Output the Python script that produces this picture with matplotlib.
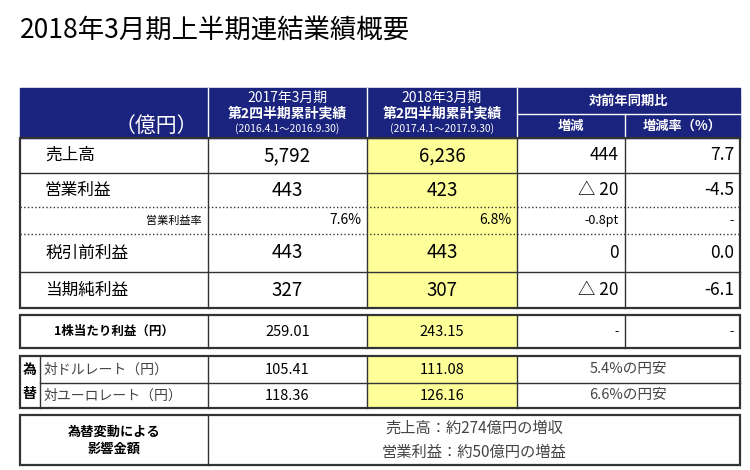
import matplotlib
matplotlib.use("Agg")
import matplotlib.pyplot as plt
from matplotlib.patches import Rectangle

plt.rcParams["font.family"] = "Noto Sans CJK JP"

title = "2018年3月期上半期連結業績概要"
items = ["売上高", "営業利益", "営業利益率", "税引前利益", "当期純利益"]
prev = ["5,792", "443", "7.6%", "443", "327"]
curr = ["6,236", "423", "6.8%", "443", "307"]
diff = ["444", "△ 20", "-0.8pt", "0", "△ 20"]
rate = ["7.7", "-4.5", "-", "0.0", "-6.1"]
eps_label = "1株当たり利益（円）"
eps = ["259.01", "243.15", "-", "-"]
fx_labels = ["対ドルレート（円）", "対ユーロレート（円）"]
fx_prev = ["105.41", "118.36"]
fx_curr = ["111.08", "126.16"]
fx_note = ["5.4%の円安", "6.6%の円安"]
impact_label = "為替変動による\n影響金額"
impact = ["売上高：約274億円の増収", "営業利益：約50億円の増益"]

fig = plt.figure(figsize=(7.5, 4.7), dpi=100)
ax = fig.add_axes([0, 0, 1, 1])
ax.set_xlim(0, 750); ax.set_ylim(470, 0); ax.axis("off")

NAVY = "#1a237e"; YEL = "#ffff99"; LC = "#333333"
X = [20, 208, 367, 517, 625, 740]

def rect(x0, y0, x1, y1, fc="none", lw=1.0, ec=LC, z=1):
    ax.add_patch(Rectangle((x0, y0), x1 - x0, y1 - y0, fc=fc, ec=ec, lw=lw, zorder=z))

def hline(y, x0, x1, lw=1.0, ls="-"):
    ax.plot([x0, x1], [y, y], color=LC, lw=lw, ls=ls, zorder=3)

def vline(x, y0, y1, lw=1.0, ls="-", c=LC):
    ax.plot([x, x], [y0, y1], color=c, lw=lw, ls=ls, zorder=3)

ax.text(20, 30, title, fontsize=19, va="center", ha="left")

# header
rect(X[0], 88, X[5], 138, fc=NAVY, ec=NAVY, z=2)
for x in X[1:4]:
    vline(x, 88, 138, c="white", lw=1)
vline(X[4], 114, 138, c="white", lw=1)
ax.plot([X[3], X[5]], [114, 114], color="white", lw=1, zorder=3)
ax.text(X[1] - 10, 126, "（億円）", color="white", fontsize=15, ha="right", va="center", zorder=4)
for i, (yr, per) in enumerate([("2017年3月期", "(2016.4.1～2016.9.30)"), ("2018年3月期", "(2017.4.1～2017.9.30)")]):
    cx = (X[1 + i] + X[2 + i]) / 2
    ax.text(cx, 98, yr, color="white", fontsize=10, ha="center", va="center", zorder=4)
    ax.text(cx, 114, "第2四半期累計実績", color="white", fontsize=10, ha="center", va="center", zorder=4, fontweight="bold")
    ax.text(cx, 129, per, color="white", fontsize=7.5, ha="center", va="center", zorder=4)
ax.text((X[3] + X[5]) / 2, 101, "対前年同期比", color="white", fontsize=9.5, ha="center", va="center", zorder=4, fontweight="bold")
ax.text((X[3] + X[4]) / 2, 126, "増減", color="white", fontsize=9.5, ha="center", va="center", zorder=4, fontweight="bold")
ax.text((X[4] + X[5]) / 2, 126, "増減率（%）", color="white", fontsize=9.5, ha="center", va="center", zorder=4, fontweight="bold")

# main rows
rows = [(138, 173), (173, 207), (207, 234), (234, 272), (272, 308)]
rect(X[2], 138, X[3], 308, fc=YEL, ec="none", z=0)
rect(X[0], 138, X[5], 308, lw=1.6, z=3)
for x in X[1:5]:
    vline(x, 138, 308)
for i, (y0, y1) in enumerate(rows):
    cy = (y0 + y1) / 2
    if i > 0:
        ls = ":" if i in (2, 3) else "-"
        hline(y0, X[0], X[5], ls=ls)
    if items[i] == "営業利益率":
        ax.text(X[1] - 6, cy, items[i], fontsize=8, ha="right", va="center")
        ax.text(X[2] - 6, cy, prev[i], fontsize=10, ha="right", va="center")
        ax.text(X[3] - 6, cy, curr[i], fontsize=10, ha="right", va="center")
        ax.text(X[4] - 6, cy, diff[i], fontsize=9, ha="right", va="center")
        ax.text(X[5] - 6, cy, rate[i], fontsize=9, ha="right", va="center")
    else:
        ax.text(X[0] + 25, cy, items[i], fontsize=12, ha="left", va="center")
        ax.text((X[1] + X[2]) / 2, cy, prev[i], fontsize=13.5, ha="center", va="center")
        ax.text((X[2] + X[3]) / 2, cy, curr[i], fontsize=13.5, ha="center", va="center")
        ax.text(X[4] - 6, cy, diff[i], fontsize=12.5, ha="right", va="center")
        ax.text(X[5] - 6, cy, rate[i], fontsize=12.5, ha="right", va="center")

# EPS
rect(X[2], 315, X[3], 348, fc=YEL, ec="none", z=0)
rect(X[0], 315, X[5], 348, lw=1.6, z=3)
for x in X[1:5]:
    vline(x, 315, 348)
cy = 331.5
ax.text((X[0] + X[1]) / 2, cy, eps_label, fontsize=9, ha="center", va="center", fontweight="bold")
ax.text((X[1] + X[2]) / 2, cy, eps[0], fontsize=10.5, ha="center", va="center")
ax.text((X[2] + X[3]) / 2, cy, eps[1], fontsize=10.5, ha="center", va="center")
ax.text(X[4] - 6, cy, eps[2], fontsize=9, ha="right", va="center")
ax.text(X[5] - 6, cy, eps[3], fontsize=9, ha="right", va="center")

# FX
rect(X[2], 356, X[3], 408, fc=YEL, ec="none", z=0)
rect(X[0], 356, X[5], 408, lw=1.6, z=3)
for x in [40, X[1], X[2], X[3]]:
    vline(x, 356, 408)
hline(383, 40, X[5])
ax.text(30, 370, "為", fontsize=10, ha="center", va="center", fontweight="bold")
ax.text(30, 394, "替", fontsize=10, ha="center", va="center", fontweight="bold")
for i, cy in enumerate([369.5, 395.5]):
    ax.text(44, cy, fx_labels[i], fontsize=10, ha="left", va="center", color="#444444")
    ax.text((X[1] + X[2]) / 2, cy, fx_prev[i], fontsize=10.5, ha="center", va="center")
    ax.text((X[2] + X[3]) / 2, cy, fx_curr[i], fontsize=10.5, ha="center", va="center")
    ax.text((X[3] + X[5]) / 2, cy, fx_note[i], fontsize=10.5, ha="center", va="center", color="#444444")

# impact
rect(X[0], 415, X[5], 465, lw=1.6, z=3)
vline(X[1], 415, 465)
ax.text((X[0] + X[1]) / 2, 440, impact_label, fontsize=9.5, ha="center", va="center", fontweight="bold", linespacing=1.3)
ax.text((X[1] + X[5]) / 2, 428, impact[0], fontsize=11, ha="center", va="center", color="#444444")
ax.text((X[1] + X[5]) / 2, 452, impact[1], fontsize=11, ha="center", va="center", color="#444444")

fig.savefig("out.png", dpi=100)
